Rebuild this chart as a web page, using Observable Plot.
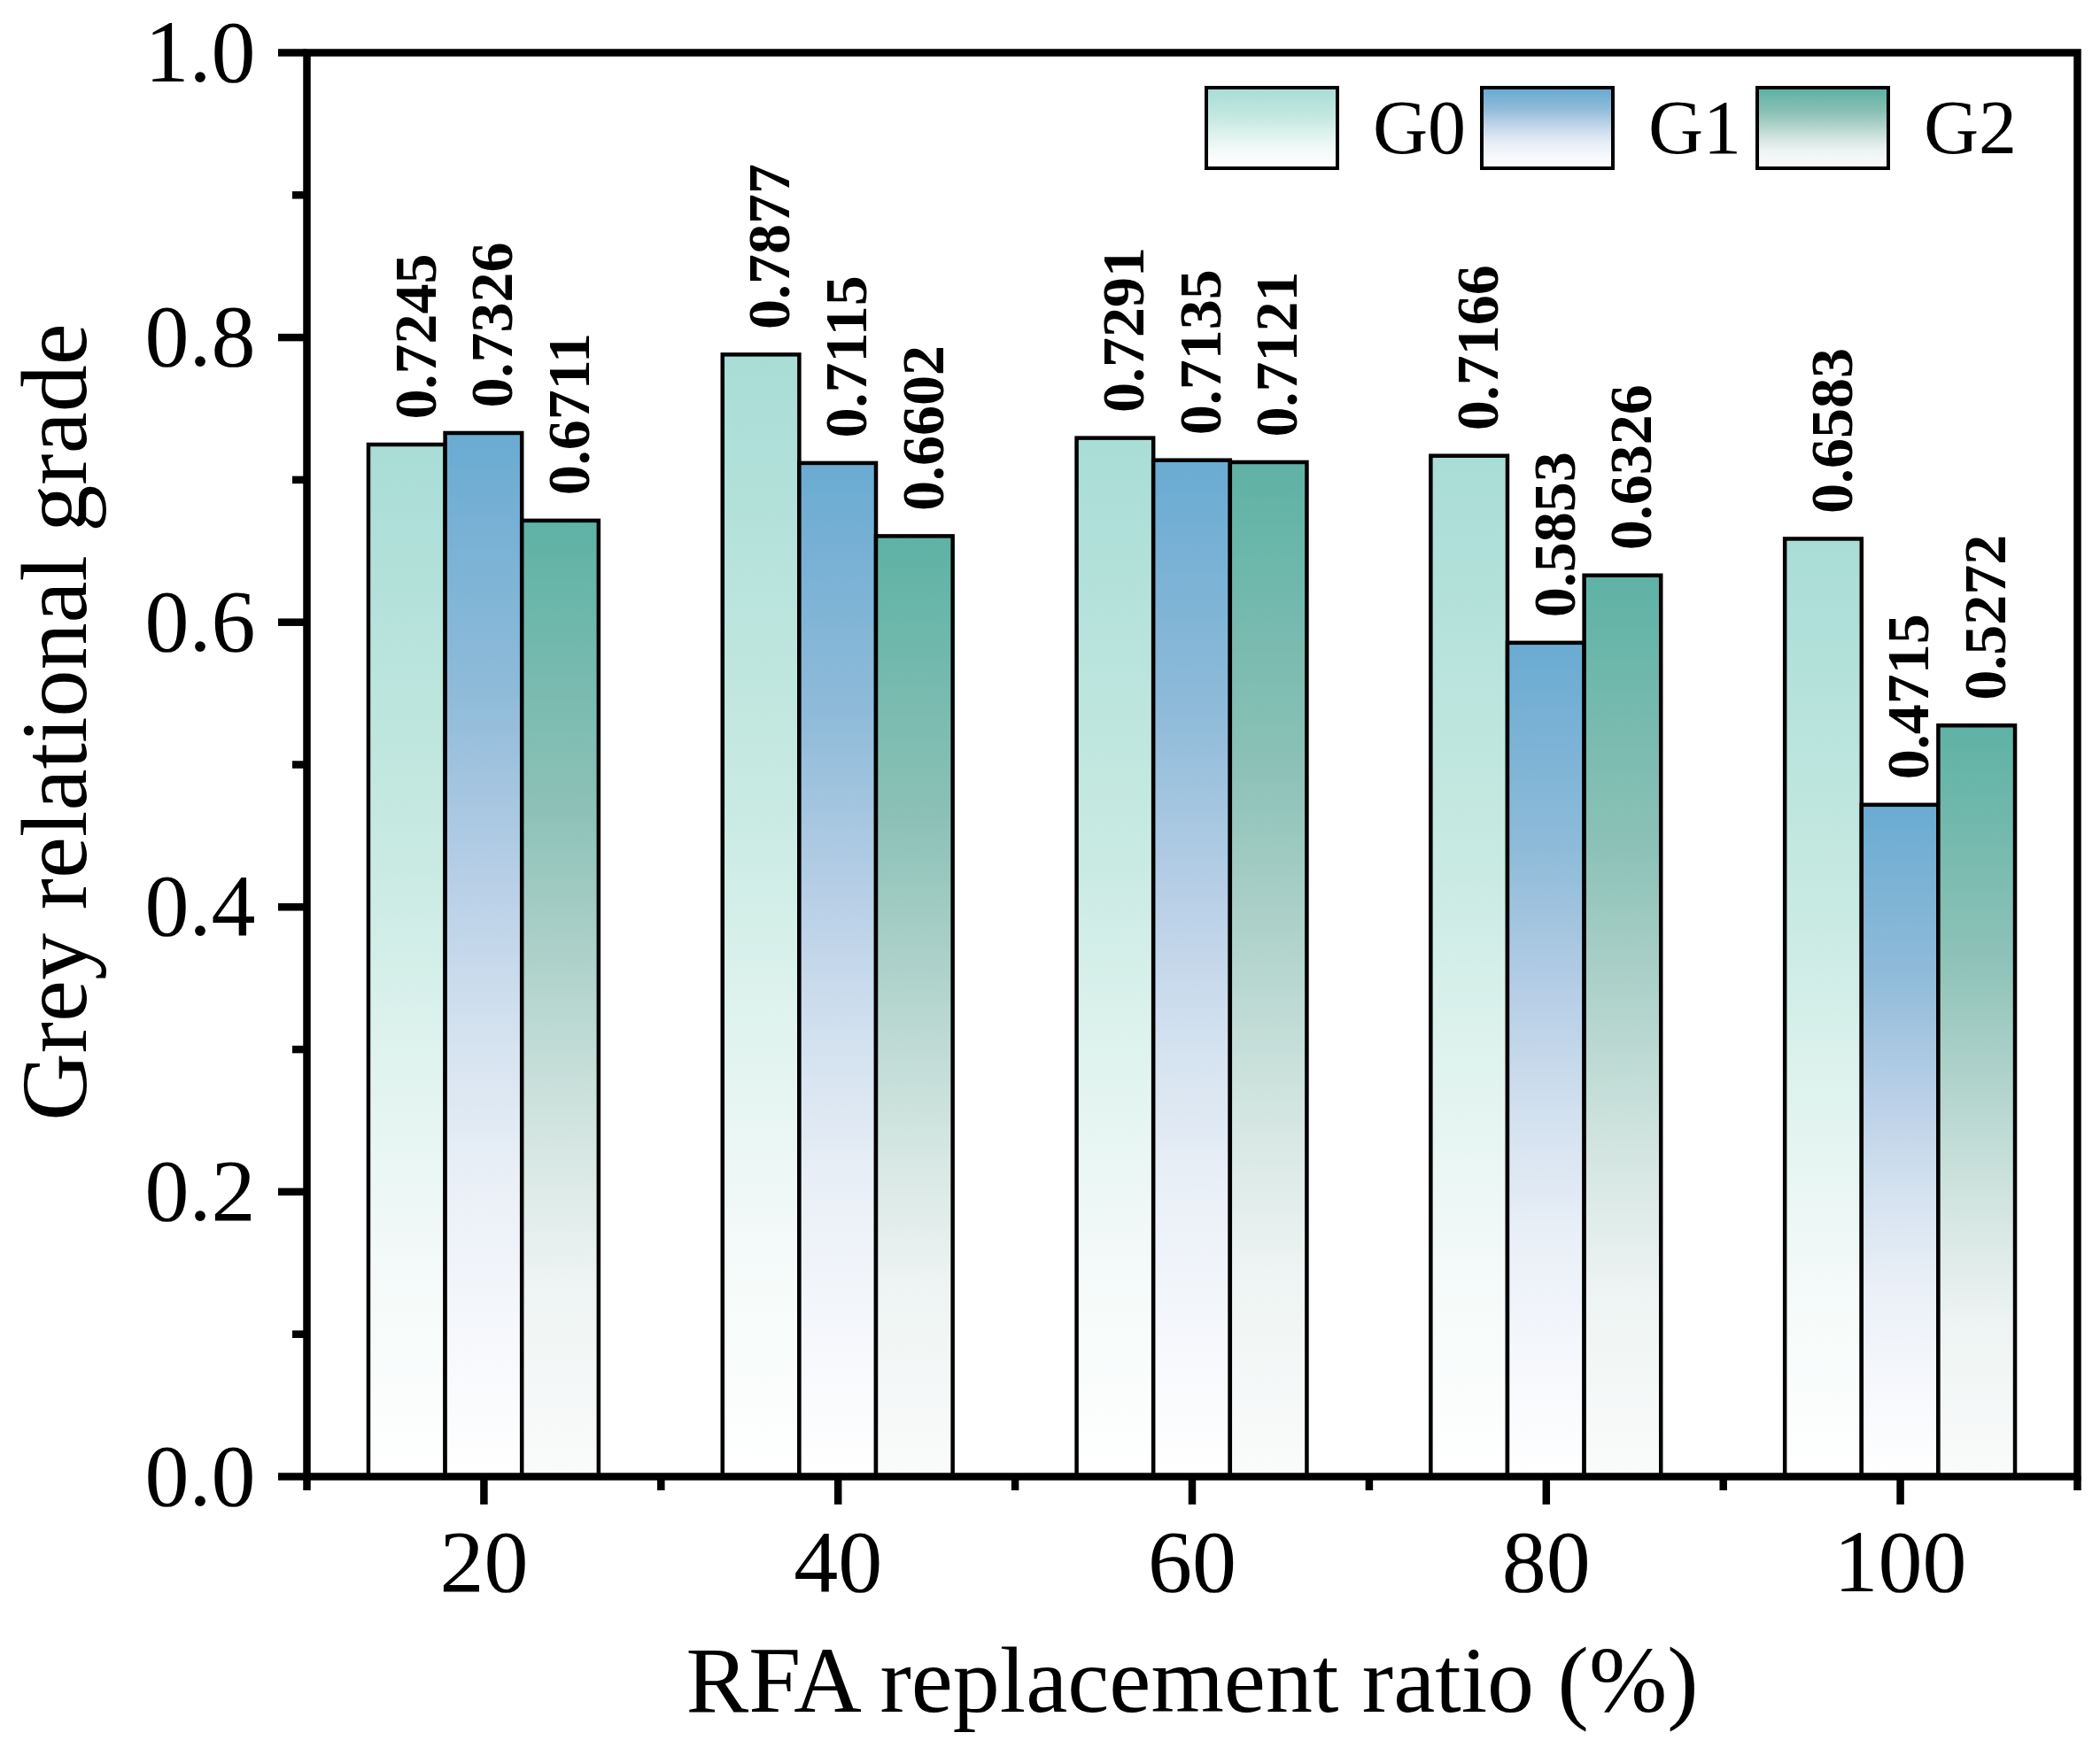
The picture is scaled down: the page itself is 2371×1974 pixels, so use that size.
<!DOCTYPE html>
<html>
<head>
<meta charset="utf-8">
<script src="https://cdn.jsdelivr.net/npm/d3@7"></script>
<script src="https://cdn.jsdelivr.net/npm/@observablehq/plot@0.6"></script>
<style>
  html, body { margin: 0; padding: 0; background: #fff; }
  #wrap { position: relative; width: 2371px; height: 1974px; }
  #legend { position: absolute; left: 1360px; top: 97px; display: flex; font-family: "Liberation Serif", "Times New Roman", serif; }
  .item { display: flex; width: 311px; }
  .sw { box-sizing: border-box; width: 152px; height: 95px; border: 4px solid #000; }
  .lab { margin-left: 38px; font-size: 86px; line-height: 95px; height: 95px; color: #000; }
</style>
</head>
<body>
<div id="wrap"><div id="legend"></div></div>
<script>
// ---- data ----
const ratios = [20, 40, 60, 80, 100];
const seriesNames = ["G0", "G1", "G2"];
const g0 = [0.7245, 0.7877, 0.7291, 0.7166, 0.6583];
const g1 = [0.7326, 0.7115, 0.7135, 0.5853, 0.4715];
const g2 = [0.6711, 0.6602, 0.7121, 0.6326, 0.5272];
const xMajorTicks = [20, 40, 60, 80, 100];
const xMinorTicks = [10, 30, 50, 70, 90, 110];
const yMajorTicks = [0, 0.2, 0.4, 0.6, 0.8, 1.0];
const yMinorTicks = [0.1, 0.3, 0.5, 0.7, 0.9];

// ---- styles ----
const barWidth = 13 / 3; // in x-data units
const gradients = {
  G0: [[0, "#a8ddd6"], [0.4, "#c8eae2"], [0.6, "#e0f3ef"], [0.8, "#f4faf9"], [1, "#ffffff"]],
  G1: [[0, "#6aabd2"], [0.25, "#8fbbd9"], [0.42, "#b6cee6"], [0.57, "#d3e1ef"], [0.72, "#eaf0f7"], [0.87, "#f6f8fc"], [1, "#ffffff"]],
  G2: [[0, "#5eb2a5"], [0.3, "#8cc1b7"], [0.5, "#b6d6cf"], [0.65, "#d5e6e2"], [0.8, "#eef4f3"], [1, "#fafbfb"]]
};

const valuesBySeries = [g0, g1, g2];
const rows = [];
seriesNames.forEach((s, i) => {
  ratios.forEach((r, j) => {
    rows.push({ratio: r, series: s, idx: i, value: valuesBySeries[i][j]});
  });
});

const font = "Liberation Serif, Times New Roman, serif";

function defsMark() {
  const ns = "http://www.w3.org/2000/svg";
  const defs = document.createElementNS(ns, "defs");
  for (const [name, stops] of Object.entries(gradients)) {
    const lg = document.createElementNS(ns, "linearGradient");
    lg.setAttribute("id", "grad" + name);
    lg.setAttribute("x1", "0"); lg.setAttribute("y1", "0");
    lg.setAttribute("x2", "0"); lg.setAttribute("y2", "1");
    for (const [o, c] of stops) {
      const st = document.createElementNS(ns, "stop");
      st.setAttribute("offset", o);
      st.setAttribute("stop-color", c);
      lg.appendChild(st);
    }
    defs.appendChild(lg);
  }
  return defs;
}

const barMarks = seriesNames.map((s) =>
  Plot.rect(rows.filter(d => d.series === s), {
    x1: d => d.ratio + (d.idx - 1.5) * barWidth,
    x2: d => d.ratio + (d.idx - 0.5) * barWidth,
    y1: 0,
    y2: "value",
    fill: `url(#grad${s})`,
    stroke: "#000",
    strokeWidth: 4.5
  })
);

const chart = Plot.plot({
  width: 2371,
  height: 1974,
  marginLeft: 346,
  marginRight: 26,
  marginTop: 59,
  marginBottom: 307,
  style: {fontFamily: font, background: "#fff", color: "#000"},
  x: {domain: [10, 110]},
  y: {domain: [0, 1]},
  marks: [
    defsMark,
    ...barMarks,
    Plot.text(rows, {
      x: d => d.ratio + (d.idx - 1) * barWidth,
      y: "value",
      text: d => d3.format(".4f")(d.value),
      rotate: -90,
      textAnchor: "start",
      lineAnchor: "middle",
      dy: -29,
      dx: 10,
      fontSize: 68,
      fontWeight: "bold",
      fill: "#000"
    }),
    Plot.axisX(xMajorTicks, {anchor: "bottom", tickSize: 32, tickPadding: 26, fontSize: 100, strokeWidth: 8.5, tickFormat: d => String(d), label: null}),
    Plot.axisX(xMinorTicks, {anchor: "bottom", tickSize: 16, strokeWidth: 8.5, text: null, label: null}),
    Plot.axisY(yMajorTicks, {anchor: "left", tickSize: 32, tickPadding: 26, fontSize: 100, strokeWidth: 8.5, tickFormat: d3.format(".1f"), label: null}),
    Plot.axisY(yMinorTicks, {anchor: "left", tickSize: 16, strokeWidth: 8.5, text: null, label: null}),
    Plot.frame({stroke: "#000", strokeWidth: 8.5}),
    Plot.text(["RFA replacement ratio (%)"], {frameAnchor: "bottom", text: d => d, dy: 232, lineAnchor: "middle", fontSize: 106, fill: "#000"}),
    Plot.text(["Grey relational grade"], {frameAnchor: "left", text: d => d, rotate: -90, dx: -283, dy: -48, lineAnchor: "middle", textAnchor: "middle", fontSize: 106, fill: "#000"})
  ]
});

document.getElementById("wrap").prepend(chart);

// legend
const legend = document.getElementById("legend");
seriesNames.forEach((s) => {
  const stops = gradients[s].map(([o, c]) => `${c} ${o * 100}%`).join(", ");
  const item = document.createElement("div");
  item.className = "item";
  const sw = document.createElement("div");
  sw.className = "sw";
  sw.style.background = `linear-gradient(to bottom, ${stops})`;
  const lab = document.createElement("div");
  lab.className = "lab";
  lab.textContent = s;
  item.appendChild(sw);
  item.appendChild(lab);
  legend.appendChild(item);
});
</script>
</body>
</html>
